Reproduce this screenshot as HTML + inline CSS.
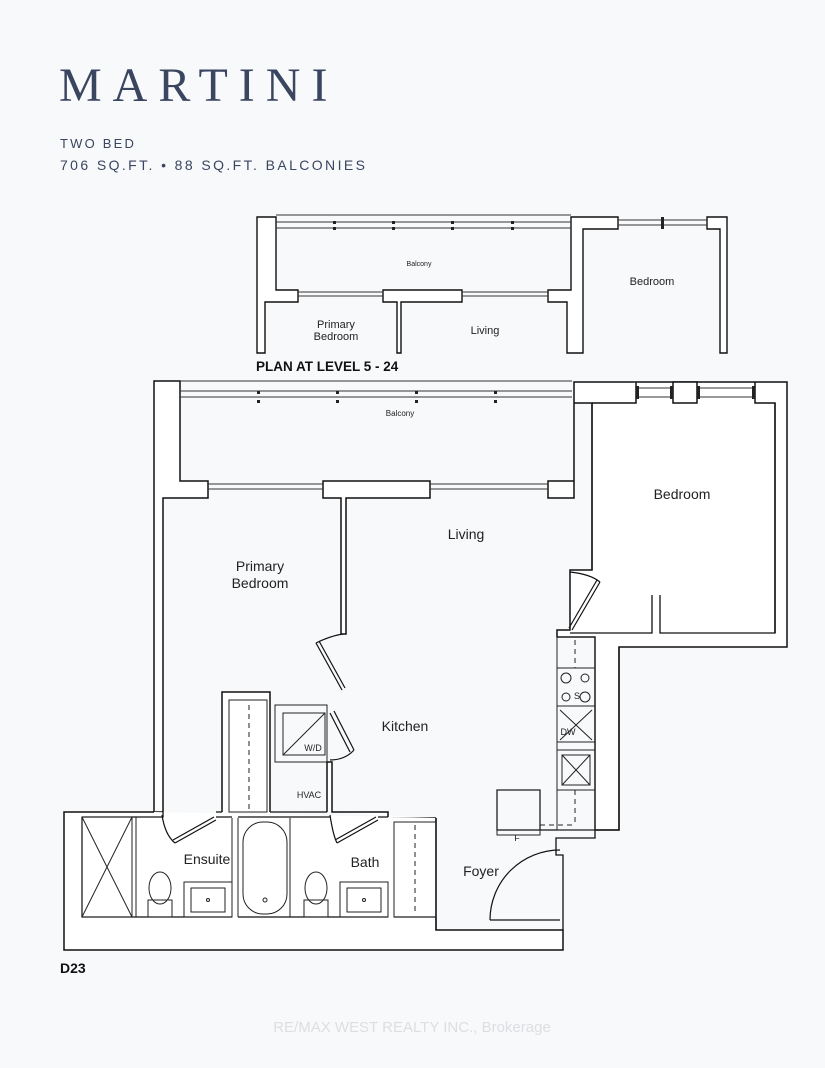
<!DOCTYPE html>
<html><head><meta charset="utf-8"><style>
html,body{margin:0;padding:0;background:#f8f9fa;}
svg{display:block}
text{font-family:"Liberation Sans",sans-serif;fill:#222}
</style></head><body>
<svg width="825" height="1068" viewBox="0 0 825 1068" xmlns="http://www.w3.org/2000/svg">
<rect width="825" height="1068" fill="#f8f9fa"/>
<text x="59" y="101" style="font-family:'Liberation Serif',serif;font-size:48px;letter-spacing:11px;fill:#3a4560">MARTINI</text>
<text x="60" y="148" style="font-size:13px;letter-spacing:2.2px;fill:#3a4560">TWO BED</text>
<text x="60" y="170" style="font-size:14px;letter-spacing:2.4px;fill:#3a4560">706 SQ.FT. • 88 SQ.FT. BALCONIES</text>

<g fill="#fff" stroke="#111" stroke-width="1.4">
<path d="M257,217 H276 V290 H298 V302 H265 V353 H257 Z"/>
<path d="M383,290 H462 V302 H401 V353 H397 V302 H383 Z"/>
<path d="M548,290 H571 V217 H618 V229 H583 V353 H567 V302 H548 Z"/>
<path d="M707,217 H727 V353 H720 V229 H707 Z"/>
</g>
<g stroke="#333" fill="none" stroke-width="1">
<path d="M276,215 H571 M276,222 H571 M276,228 H571"/>
<path d="M298,292 H383 M298,296 H383 M462,292 H548 M462,296 H548 M618,220 H707 M618,225 H707"/>
</g>
<g fill="#222"><rect x="333" y="221" width="3" height="3"/><rect x="333" y="227" width="3" height="3"/><rect x="392" y="221" width="3" height="3"/><rect x="392" y="227" width="3" height="3"/><rect x="451" y="221" width="3" height="3"/><rect x="451" y="227" width="3" height="3"/><rect x="511" y="221" width="3" height="3"/><rect x="511" y="227" width="3" height="3"/><rect x="661" y="217" width="3" height="12"/></g>
<text x="419" y="266" text-anchor="middle" style="font-size:7px">Balcony</text>
<text x="652" y="285" text-anchor="middle" style="font-size:11px">Bedroom</text>
<text x="336" y="328" text-anchor="middle" style="font-size:11px">Primary</text>
<text x="336" y="340" text-anchor="middle" style="font-size:11px">Bedroom</text>
<text x="485" y="334" text-anchor="middle" style="font-size:11px">Living</text>
<text x="256" y="371" style="font-size:13.5px;font-weight:bold;fill:#111">PLAN AT LEVEL 5 - 24</text>

<g fill="#fff" stroke="#111" stroke-width="1.5">
<path d="M154,381 H180 V481 H208 V498 H163 V812 H154 Z"/>
<path d="M222,812 V692 H270 V812 M327,812 V762 H332 V812 H388 V818 H436"/>
<path d="M154,812 H64 V950 H563 V930 H436 V818"/>
<path d="M323,481 H430 V498 H346 V634 H341 V498 H323 Z"/>
<path d="M548,481 H574 V382 H787 V647 H619 V830 H595 V637 H557 V630 H570 V570 H592 V403 H574 V498 H548 Z"/>
<path d="M592,403 H636 V382 M673,382 H697 V403 H673 Z" />
<path d="M755,382 V403 H775 V633"/>
</g>
<g stroke="#111" fill="none" stroke-width="1.3">
<path d="M82,817 H163 V812 M82,817 V917 H232 M238,917 H388 M394,917 H436"/>
<path d="M216,817 H232 M216,812 H222 M270,812 H327 M238,817 H330 M378,817 H388"/>
<path d="M592,570 V403 M775,403 V633 H660 V595 M652,595 V633 H570"/>
<path d="M619,647 V830 H497 V790 H540 V830"/>
<path d="M436,818 V930 M563,930 V855 H556 V838 H595 V830"/>
</g>
<g stroke="#333" fill="none" stroke-width="1">
<path d="M180,381 H572 M180,391 H572 M180,397 H572"/>
<path d="M208,484 H323 M208,489 H323 M430,484 H548 M430,489 H548"/>
<path d="M636,388 H673 M636,397 H673 M697,388 H755 M697,397 H755"/>
</g>
<g fill="#222"><rect x="257" y="391" width="3" height="3"/><rect x="257" y="400" width="3" height="3"/><rect x="336" y="391" width="3" height="3"/><rect x="336" y="400" width="3" height="3"/><rect x="415" y="391" width="3" height="3"/><rect x="415" y="400" width="3" height="3"/><rect x="494" y="391" width="3" height="3"/><rect x="494" y="400" width="3" height="3"/>
<rect x="636" y="386" width="3" height="13"/><rect x="670" y="386" width="3" height="13"/><rect x="697" y="386" width="3" height="13"/><rect x="752" y="386" width="3" height="13"/></g>
<g stroke="#111" fill="none" stroke-width="1.2">
<path d="M316,643 L342,690 M319,641 L345,688"/>
<path d="M316,643 Q330,636 343,634"/>
<path d="M600,582 L572,630 M597,580 L569,628"/>
<path d="M570,572 Q590,574 600,582"/>
<path d="M330,713 L350,752 M334,711 L354,750 M330,760 Q345,760 354,750"/>
<path d="M175,843 L216,820 M173,840 L214,817 M162,815 Q165,835 175,843"/>
<path d="M337,843 L378,820 M335,840 L376,817 M330,815 Q333,835 337,843"/>
<path d="M490,920 H560 M490,920 A70,70 0 0 1 560,850"/>
</g>
<g stroke="#222" fill="none" stroke-width="1">
<rect x="229" y="700" width="38" height="112"/>
<path d="M249,705 V810" stroke-dasharray="5,4"/>
<rect x="275" y="705" width="52" height="57"/>
<rect x="283" y="713" width="42" height="42"/><path d="M283,755 L325,713"/>
<rect x="394" y="822" width="42" height="95"/><path d="M415,825 V915" stroke-dasharray="5,4"/>
<rect x="557" y="637" width="38" height="193"/>
<path d="M557,668 H595 M557,706 H595 M557,742 H595 M557,750 H595 M557,790 H595"/>
<path d="M575,640 V668 M575,790 V825 M540,825 H575" stroke-dasharray="5,4"/>
<circle cx="566" cy="678" r="5"/><circle cx="585" cy="678" r="4"/><circle cx="566" cy="697" r="4"/><circle cx="585" cy="697" r="5"/>
<path d="M560,710 L592,740 M592,710 L560,740"/>
<rect x="562" y="755" width="28" height="30"/><path d="M562,755 L590,785 M590,755 L562,785"/>
<rect x="497" y="790" width="43" height="45"/>
<rect x="82" y="817" width="50" height="100"/><path d="M82,817 L132,917 M132,817 L82,917"/>
<path d="M136,817 V917 M232,818 V917 M238,818 V917 M290,818 V917"/>
<rect x="243" y="822" width="44" height="92" rx="20"/>
<circle cx="265" cy="900" r="2"/>
<ellipse cx="160" cy="888" rx="11" ry="16"/><rect x="148" y="900" width="24" height="17"/>
<ellipse cx="316" cy="888" rx="11" ry="16"/><rect x="304" y="900" width="24" height="17"/>
<rect x="184" y="882" width="48" height="35"/><rect x="191" y="888" width="34" height="24"/><circle cx="208" cy="900" r="1.5"/>
<rect x="340" y="882" width="48" height="35"/><rect x="347" y="888" width="34" height="24"/><circle cx="364" cy="900" r="1.5"/>
</g>
<text x="400" y="416" text-anchor="middle" style="font-size:8px">Balcony</text>
<text x="260" y="571" text-anchor="middle" style="font-size:14px">Primary</text>
<text x="260" y="588" text-anchor="middle" style="font-size:14px">Bedroom</text>
<text x="466" y="539" text-anchor="middle" style="font-size:14px">Living</text>
<text x="682" y="499" text-anchor="middle" style="font-size:14px">Bedroom</text>
<text x="405" y="731" text-anchor="middle" style="font-size:14px">Kitchen</text>
<text x="313" y="751" text-anchor="middle" style="font-size:9px">W/D</text>
<text x="309" y="798" text-anchor="middle" style="font-size:9px">HVAC</text>
<text x="207" y="864" text-anchor="middle" style="font-size:14px">Ensuite</text>
<text x="365" y="867" text-anchor="middle" style="font-size:14px">Bath</text>
<text x="481" y="876" text-anchor="middle" style="font-size:14px">Foyer</text>
<text x="577" y="699" text-anchor="middle" style="font-size:9px">S</text>
<text x="568" y="735" text-anchor="middle" style="font-size:9px">DW</text>
<text x="517" y="841" text-anchor="middle" style="font-size:9px">F</text>
<text x="60" y="973" style="font-size:14px;font-weight:bold;fill:#111">D23</text>
<text x="412" y="1032" text-anchor="middle" style="font-size:15px;fill:#dcdee1">RE/MAX WEST REALTY INC., Brokerage</text>
</svg>
</body></html>
